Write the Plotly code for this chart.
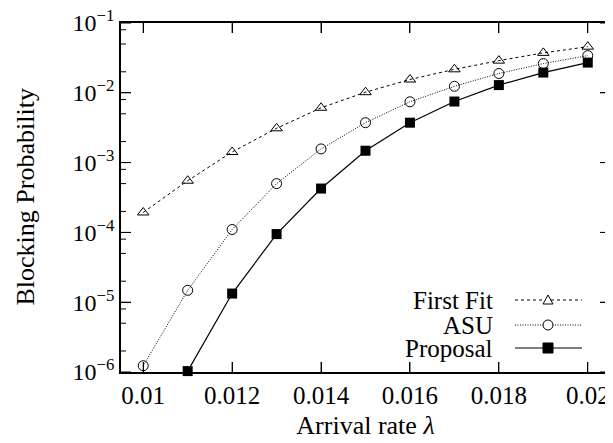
import math
import plotly.graph_objects as go

# ---- data ----
arrival_rate = [0.010, 0.011, 0.012, 0.013, 0.014, 0.015, 0.016, 0.017, 0.018, 0.019, 0.020]
first_fit = [1.93e-4, 5.5e-4, 1.42e-3, 3.1e-3, 6.1e-3, 1.02e-2, 1.55e-2, 2.17e-2, 2.89e-2, 3.73e-2, 4.58e-2]
asu = [1.23e-6, 1.48e-5, 1.1e-4, 5.0e-4, 1.57e-3, 3.73e-3, 7.43e-3, 1.24e-2, 1.89e-2, 2.62e-2, 3.41e-2]
proposal_x = [0.011, 0.012, 0.013, 0.014, 0.015, 0.016, 0.017, 0.018, 0.019, 0.020]
proposal = [1.03e-6, 1.33e-5, 9.46e-5, 4.25e-4, 1.48e-3, 3.73e-3, 7.5e-3, 1.29e-2, 1.95e-2, 2.71e-2]

x_tickvals = [0.010, 0.012, 0.014, 0.016, 0.018, 0.020]
x_ticktext = ["0.01", "0.012", "0.014", "0.016", "0.018", "0.02"]
y_exponents = [-6, -5, -4, -3, -2, -1]
y_minor_mult = [2, 5, 8]

series_names = ["First Fit", "ASU", "Proposal"]

X_RANGE = [0.0095, 0.0205]
Y_LOG_RANGE = [-6, -1]

FONT = "Liberation Serif"
FS = 26
FS_LEG = 25
FS_TICK = 24
BLACK = "#000000"

# page body has an 8px margin; figure is sized to fit the 613x443 window
OFF = 8
W, H = 613 - OFF, 443 - OFF

fig = go.Figure()

fig.add_trace(go.Scatter(x=arrival_rate, y=first_fit, mode="lines+markers", name=series_names[0],
                         line=dict(color=BLACK, width=1, dash="3px,3px"),
                         marker=dict(symbol="triangle-up-open", size=10, color=BLACK, line=dict(width=1)),
                         showlegend=False, cliponaxis=False))
fig.add_trace(go.Scatter(x=arrival_rate, y=asu, mode="lines+markers", name=series_names[1],
                         line=dict(color=BLACK, width=1, dash="1px,1.5px"),
                         marker=dict(symbol="circle-open", size=10, color=BLACK, line=dict(width=1)),
                         showlegend=False, cliponaxis=False))
fig.add_trace(go.Scatter(x=proposal_x, y=proposal, mode="lines+markers", name=series_names[2],
                         line=dict(color=BLACK, width=1.2),
                         marker=dict(symbol="square", size=10, color=BLACK),
                         showlegend=False, cliponaxis=False))

PL, PR, PT, PB = 121 - OFF, 610 - OFF, 23 - OFF, 372 - OFF  # plot area in figure pixels
PW, PH = PR - PL, PB - PT
def fx(px):
    return (px - OFF - PL) / PW
def fy(py):
    return (PB - (py - OFF)) / PH

# ---- tick marks on all four sides (inside) ----
tick_line = dict(color=BLACK, width=1)
for v in x_tickvals:
    for y0, y1 in [(0, 10 / PH), (1, 1 - 10 / PH)]:
        fig.add_shape(type="line", xref="x", yref="paper", x0=v, x1=v, y0=y0, y1=y1, line=tick_line, layer="above")
def yfrac(v):
    return (math.log10(v) - Y_LOG_RANGE[0]) / (Y_LOG_RANGE[1] - Y_LOG_RANGE[0])
y_tickvals = [10.0 ** e for e in y_exponents]
y_minor = sorted(m * 10.0 ** e for e in y_exponents[:-1] for m in y_minor_mult)
for vals, length in [(y_tickvals, 10), (y_minor, 5)]:
    for v in vals:
        yf = yfrac(v)
        for x0, x1 in [(0, length / PW), (1, 1 - length / PW)]:
            fig.add_shape(type="line", xref="paper", yref="paper", x0=x0, x1=x1, y0=yf, y1=yf,
                          line=tick_line, layer="above")

# ---- manual legend (text on left, sample on right), in paper coords ----
leg_py = [300, 325, 348]
leg_dash = ["3px,3px", "1px,1.5px", "solid"]
for name, py, dsh in zip(series_names, leg_py, leg_dash):
    yy = fy(py)
    fig.add_annotation(x=fx(495), y=yy, xref="paper", yref="paper", text=name, showarrow=False,
                       xanchor="right", yanchor="middle", font=dict(family=FONT, size=FS_LEG, color=BLACK))
    fig.add_shape(type="line", xref="paper", yref="paper", x0=fx(515), x1=fx(582), y0=yy, y1=yy,
                  line=dict(color=BLACK, width=1 if dsh != "solid" else 1.2, dash=dsh))
mx = 548
py = leg_py[0]
fig.add_shape(type="path", xref="paper", yref="paper",
              path="M %f,%f L %f,%f L %f,%f Z" % (fx(mx - 5), fy(py + 4), fx(mx + 5), fy(py + 4), fx(mx), fy(py - 5)),
              line=dict(color=BLACK, width=1), fillcolor="white")
py = leg_py[1]
fig.add_shape(type="circle", xref="paper", yref="paper", x0=fx(mx - 5), x1=fx(mx + 5), y0=fy(py + 5), y1=fy(py - 5),
              line=dict(color=BLACK, width=1), fillcolor="white")
py = leg_py[2]
fig.add_shape(type="rect", xref="paper", yref="paper", x0=fx(mx - 5), x1=fx(mx + 5), y0=fy(py + 5), y1=fy(py - 5),
              line=dict(color=BLACK, width=1), fillcolor=BLACK)

# y axis title as a rotated annotation
fig.add_annotation(x=fx(25), y=0.5, xref="paper", yref="paper", text="Blocking Probability",
                   textangle=-90, showarrow=False, xanchor="center", yanchor="middle",
                   font=dict(family=FONT, size=FS, color=BLACK))

y_ticktext = ["10<sup>\u2212%d</sup>" % (-e) for e in y_exponents]

fig.update_layout(
    width=W, height=H,
    margin=dict(l=PL, r=W - PR, t=PT, b=H - PB),
    paper_bgcolor="white", plot_bgcolor="white",
    font=dict(family=FONT, size=FS, color=BLACK),
    xaxis=dict(range=X_RANGE, tickmode="array", tickvals=x_tickvals, ticktext=x_ticktext,
               ticks="inside", ticklen=10, tickwidth=1, tickcolor=BLACK, showgrid=False, zeroline=False,
               showline=True, linecolor=BLACK, linewidth=1.5, mirror="ticks", automargin=False,
               tickfont=dict(family=FONT, size=FS_TICK + 1), ticklabeloverflow="allow",
               title=dict(text="Arrival rate <i>λ</i>", font=dict(family=FONT, size=FS), standoff=8)),
    yaxis=dict(type="log", range=Y_LOG_RANGE, tickmode="array", tickvals=y_tickvals, ticktext=y_ticktext,
               ticks="inside", ticklen=10, tickwidth=1, tickcolor=BLACK, showgrid=False, zeroline=False,
               showline=True, linecolor=BLACK, linewidth=1.5, mirror="ticks", automargin=False,
               tickfont=dict(family=FONT, size=FS_TICK), ticklabeloverflow="allow"),
)

fig.write_html("out.html")
